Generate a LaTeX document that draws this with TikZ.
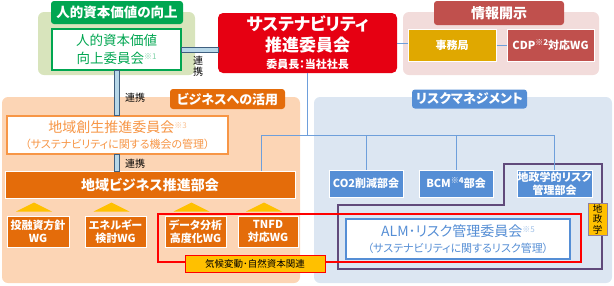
\documentclass[tikz,border=0pt]{standalone}
\usepackage{fontspec}
\setmainfont{Noto Sans CJK JP}[RawFeature={+palt}]
\usetikzlibrary{positioning}

\definecolor{hrgreen}{HTML}{00A651}
\definecolor{hrbg}{HTML}{D8E4BC}
\definecolor{susred}{HTML}{E60012}
\definecolor{discbg}{HTML}{F2DCDB}
\definecolor{discred}{HTML}{C0504D}
\definecolor{jimugold}{HTML}{E0A800}
\definecolor{bizbg}{HTML}{FCD5B5}
\definecolor{bizorg}{HTML}{E46C0A}
\definecolor{bizline}{HTML}{F79646}
\definecolor{riskbg}{HTML}{DCE6F2}
\definecolor{riskblue}{HTML}{558ED5}
\definecolor{geopurp}{HTML}{604A7B}
\definecolor{tagyel}{HTML}{FFC000}
\definecolor{barfill}{HTML}{B7D7E8}
\definecolor{bardraw}{HTML}{3F5F7F}

\newcommand{\fsz}[2]{\fontsize{#1}{#2}\selectfont}
\newcommand{\kome}[1]{\raisebox{4pt}{\fsz{8}{8}※#1}}

\begin{document}
\begin{tikzpicture}[x=1pt, y=-1pt, font=\fsz{11}{13}]
  \tikzstyle{area}=[rounded corners=6pt, inner sep=0pt]
  \tikzstyle{hdr}=[rounded corners=3pt, text=white, inner sep=0pt,
                   font=\bfseries\fsz{13}{15}]
  \tikzstyle{wbox}=[draw=white, line width=1pt, text=white, align=center,
                    inner sep=0pt, font=\bfseries\fsz{11}{13}]
  \tikzstyle{obox}=[fill=white, line width=1.2pt, align=center, inner sep=0pt]
  \tikzstyle{bar}=[draw=bardraw, fill=barfill, line width=0.6pt]
  \tikzstyle{link}=[draw=riskblue!85, line width=0.8pt]
  \tikzstyle{lbl}=[inner sep=0pt, align=center, font=\fsz{10}{11}]

  \useasboundingbox (0,0) rectangle (614,285);

  % ================= background areas =================
  \node[area, fill=hrbg, minimum width=157pt, minimum height=63pt] (hrarea) at (116.5,43.5) {};
  \node[area, fill=discbg, minimum width=196pt, minimum height=63pt] (discarea) at (501,43.5) {};
  \node[area, fill=bizbg, minimum width=298pt, minimum height=186pt] (bizarea) at (151,190) {};
  \node[area, fill=riskbg, minimum width=298pt, minimum height=186pt] (riskarea) at (463,190) {};

  % ================= headers =================
  \node[hdr, fill=hrgreen, minimum width=132pt, minimum height=23pt, font=\bfseries\fsz{13.5}{15}] (hrhdr) at (117,12.5) {人的資本価値の向上};
  \node[hdr, fill=discred, minimum width=130pt, minimum height=24pt, font=\bfseries\fsz{14}{16}] (dischdr) at (499,13) {情報開示};
  \node[hdr, fill=bizorg, minimum width=115pt, minimum height=20pt] (bizhdr) at (227.5,99) {ビジネスへの活用};
  \node[hdr, fill=riskblue, minimum width=115pt, minimum height=19pt] (riskhdr) at (469.5,99) {リスクマネジメント};

  % ================= top row =================
  \node[obox, draw=hrgreen, text=hrgreen, minimum width=129pt, minimum height=41pt,
        font=\fsz{13.5}{18}] (hrbox) at (116.5,49.5) {人的資本価値\\向上委員会{\color{hrgreen!50}\kome{1}}};
  \node[fill=susred, rounded corners=5pt, minimum width=179pt, minimum height=60pt,
        text=white, align=center, inner sep=0pt, font=\bfseries\fsz{17}{21}] (sus) at (307.5,43)
        {サステナビリティ\\推進委員会\\[-4pt]{\fsz{11}{13}委員長：当社社長}};
  \node[wbox, fill=jimugold, minimum width=88pt, minimum height=32pt] (jimu) at (452,45) {事務局};
  \node[wbox, fill=discred, minimum width=87pt, minimum height=32pt] (cdp) at (550.5,45) {CDP\kome{2}対応WG};

  % ================= business side =================
  \node[obox, draw=bizline, text=bizline, minimum width=221pt, minimum height=38pt,
        font=\fsz{14}{16}] (sousei) at (117.5,135)
        {地域創生推進委員会{\color{bizline!60}\kome{3}}\\{\fsz{11}{13}（サステナビリティに関する機会の管理）}};
  \node[wbox, fill=bizorg, minimum width=290pt, minimum height=27pt, font=\bfseries\fsz{14}{16}] (bizdept) at (150,185) {地域ビジネス推進部会};
  \node[wbox, fill=bizorg, minimum width=62pt, minimum height=31pt] (wg1) at (38,231.5) {投融資方針\\WG};
  \node[wbox, fill=bizorg, minimum width=61pt, minimum height=31pt] (wg2) at (115.5,231.5) {エネルギー\\検討WG};
  \node[wbox, fill=bizorg, minimum width=61pt, minimum height=31pt] (wg3) at (195.5,231.5) {データ分析\\高度化WG};
  \node[wbox, fill=bizorg, minimum width=60pt, minimum height=31pt] (wg4) at (268,231.5) {TNFD\\対応WG};
  \foreach \w in {wg1,wg2,wg3,wg4}
    \fill[tagyel] ([xshift=-22pt,yshift=4pt]\w.north) -- ([xshift=14pt,yshift=4pt]\w.north)
                  -- ([xshift=-4pt,yshift=13pt]\w.north) -- cycle;

  % ================= risk side =================
  \node[wbox, fill=riskblue, minimum width=74pt, minimum height=27pt] (co2) at (366,183.5) {CO2削減部会};
  \node[wbox, fill=riskblue, minimum width=74pt, minimum height=27pt] (bcm) at (456,183.5) {BCM\kome{4}部会};
  \node[wbox, fill=riskblue, minimum width=75pt, minimum height=27pt] (geo) at (554.5,183.5) {地政学的リスク\\管理部会};
  \draw[geopurp, line width=1.6pt] (504,164) -- (602,164) -- (602,269) -- (338,269)
                                   -- (338,205) -- (504,205) -- cycle;
  \node[obox, draw=riskblue, text=riskblue, minimum width=224pt, minimum height=40pt,
        font=\fsz{14}{16}] (alm) at (458,239)
        {ALM･リスク管理委員会{\color{riskblue!55}\kome{5}}\\{\fsz{11}{13}（サステナビリティに関するリスク管理）}};

  % ================= climate / geo tags =================
  \node[draw=red, line width=1.6pt, minimum width=423pt, minimum height=48pt, inner sep=0pt] (climate) at (369.5,238) {};
  \node[draw=red, fill=tagyel, line width=1pt, minimum width=140pt, minimum height=17pt,
        inner sep=0pt, font=\fsz{9.5}{11}] (climtag) at (255,263.5) {気候変動･自然資本関連};
  \node[draw=geopurp!70, fill=tagyel, line width=0.8pt, minimum width=19pt, minimum height=32pt,
        inner sep=0pt, align=center, font=\fsz{9.5}{10.5}] (geotag) at (597.5,219) {地\\政\\学};

  % ================= connectors =================
  \draw[bar] (hrbox.east |- 0,47) rectangle (sus.west |- 0,52);
  \draw[bar] ([xshift=-2.5pt]hrbox.south) rectangle ([xshift=2.5pt]hrbox.south |- sousei.north);
  \draw[bar] ([xshift=-2.5pt]hrbox.south |- sousei.south) rectangle ([xshift=2.5pt]hrbox.south |- bizdept.north);
  \node[lbl] (lk1) at (198,66) {連\\携};
  \node[lbl] (lk2) at (135,98) {連携};
  \node[lbl] (lk3) at (135,164) {連携};

  \coordinate (hub) at (307.5,135);
  \coordinate (bizdrop) at (261,135);
  \draw[link] (sus.east) -- (sus.east -| jimu.west);
  \draw[link] (jimu.east) -- (cdp.west);
  \draw[link] (sus.south) -- (hub);
  \draw[link] (bizdrop |- bizdept.north) -- (bizdrop) -- (hub -| geo.north);
  \foreach \b in {co2,bcm,geo}
    \draw[link] (\b.north) -- (\b.north |- hub);
\end{tikzpicture}
\end{document}
